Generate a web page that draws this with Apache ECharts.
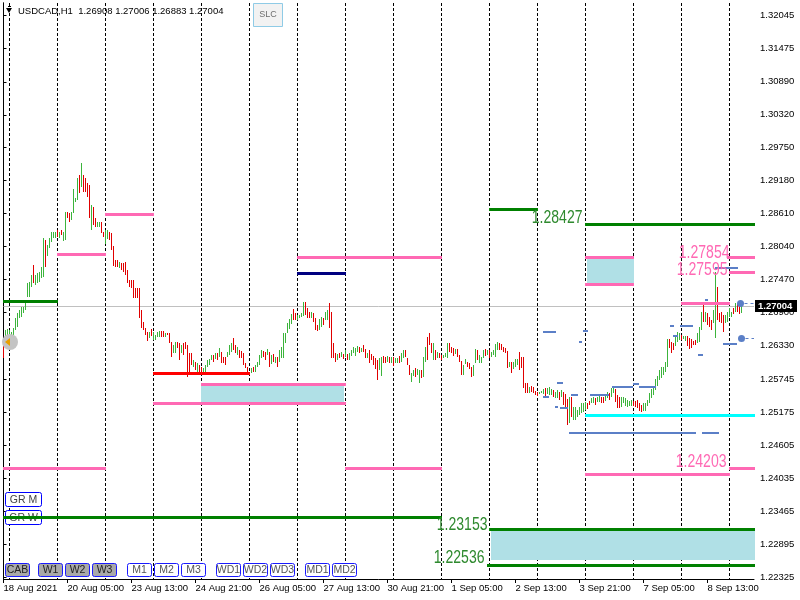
<!DOCTYPE html>
<html><head><meta charset="utf-8">
<script src="https://cdn.jsdelivr.net/npm/echarts@6/dist/echarts.min.js"></script>
<style>html,body{margin:0;padding:0;background:#fff}#c{width:800px;height:600px}</style>
</head><body><div id="c"></div>
<script>
// ---------------- DATA ----------------
const symbolName = 'USDCAD,H1';
const lastBar = {open: 1.26908, high: 1.27006, low: 1.26883, close: 1.27004};
const currentPrice = 1.27004;

const opens = [
1.2646,1.2630,1.2648,1.2646,1.2646,1.2646,1.2660,1.2665,1.2681,1.2682,
1.2689,1.2694,1.2717,1.2717,1.2734,1.2772,1.2738,1.2741,1.2743,1.2750,
1.2751,1.2815,1.2788,1.2802,1.2812,1.2819,1.2819,1.2833,1.2819,1.2833,
1.2814,1.2815,1.2864,1.2862,1.2850,1.2862,1.2881,1.2885,1.2928,1.2907,
1.2928,1.2923,1.2914,1.2911,1.2833,1.2872,1.2853,1.2838,1.2838,1.2847,
1.2829,1.2808,1.2817,1.2829,1.2827,1.2805,1.2781,1.2781,1.2767,1.2776,
1.2776,1.2777,1.2764,1.2746,1.2746,1.2746,1.2732,1.2732,1.2732,1.2694,
1.2674,1.2663,1.2656,1.2646,1.2662,1.2643,1.2643,1.2648,1.2648,1.2658,
1.2658,1.2648,1.2655,1.2655,1.2639,1.2620,1.2620,1.2639,1.2637,1.2620,
1.2637,1.2639,1.2634,1.2620,1.2620,1.2596,1.2604,1.2587,1.2599,1.2596,
1.2585,1.2587,1.2596,1.2599,1.2608,1.2617,1.2610,1.2620,1.2613,1.2622,
1.2613,1.2613,1.2613,1.2617,1.2622,1.2646,1.2634,1.2617,1.2625,1.2623,
1.2620,1.2603,1.2596,1.2587,1.2585,1.2596,1.2587,1.2596,1.2599,1.2611,
1.2623,1.2622,1.2617,1.2622,1.2601,1.2618,1.2603,1.2613,1.2604,1.2611,
1.2611,1.2637,1.2655,1.2662,1.2670,1.2696,1.2689,1.2677,1.2681,1.2682,
1.2684,1.2708,1.2698,1.2691,1.2681,1.2689,1.2681,1.2668,1.2660,1.2665,
1.2681,1.2677,1.2677,1.2706,1.2691,1.2637,1.2620,1.2608,1.2620,1.2613,
1.2618,1.2613,1.2618,1.2608,1.2615,1.2620,1.2615,1.2622,1.2630,1.2622,
1.2634,1.2627,1.2611,1.2625,1.2618,1.2615,1.2611,1.2608,1.2591,1.2580,
1.2615,1.2613,1.2604,1.2613,1.2603,1.2613,1.2603,1.2603,1.2615,1.2604,
1.2611,1.2625,1.2611,1.2599,1.2570,1.2580,1.2594,1.2582,1.2568,1.2591,
1.2579,1.2604,1.2648,1.2655,1.2637,1.2608,1.2625,1.2611,1.2620,1.2617,
1.2611,1.2613,1.2611,1.2637,1.2630,1.2629,1.2618,1.2627,1.2617,1.2606,
1.2582,1.2601,1.2604,1.2603,1.2596,1.2580,1.2603,1.2625,1.2603,1.2603,
1.2611,1.2627,1.2617,1.2625,1.2613,1.2617,1.2613,1.2625,1.2637,1.2636,
1.2630,1.2629,1.2623,1.2596,1.2604,1.2592,1.2596,1.2599,1.2622,1.2613,
1.2613,1.2568,1.2568,1.2551,1.2563,1.2561,1.2554,1.2553,1.2549,1.2551,
1.2549,1.2559,1.2549,1.2547,1.2547,1.2556,1.2542,1.2542,1.2553,1.2544,
1.2553,1.2549,1.2540,1.2499,1.2544,1.2504,1.2504,1.2509,1.2513,1.2516,
1.2518,1.2521,1.2533,1.2537,1.2533,1.2533,1.2542,1.2535,1.2535,1.2544,
1.2544,1.2537,1.2542,1.2551,1.2544,1.2551,1.2558,1.2547,1.2544,1.2527,
1.2533,1.2528,1.2527,1.2528,1.2528,1.2537,1.2537,1.2539,1.2533,1.2530,
1.2520,1.2520,1.2528,1.2533,1.2542,1.2547,1.2556,1.2563,1.2573,1.2577,
1.2582,1.2587,1.2596,1.2644,1.2639,1.2637,1.2632,1.2639,1.2643,1.2651,
1.2644,1.2641,1.2649,1.2646,1.2644,1.2641,1.2643,1.2637,1.2639,1.2660,
1.2706,1.2674,1.2689,1.2682,1.2677,1.2672,1.2646,1.2734,1.2689,1.2691,
1.2686,1.2672,1.2674,1.2682,1.2682,1.2698,1.2691,1.2706,1.2703,1.26908
];
const closes = [
1.2611,1.2660,1.2662,1.2660,1.2656,1.2663,1.2681,1.2689,1.2694,1.2700,
1.2700,1.2708,1.2741,1.2743,1.2755,1.2741,1.2755,1.2758,1.2760,1.2769,
1.2819,1.2769,1.2807,1.2819,1.2829,1.2829,1.2829,1.2821,1.2829,1.2824,
1.2829,1.2864,1.2853,1.2847,1.2864,1.2904,1.2888,1.2923,1.2897,1.2949,
1.2898,1.2898,1.2890,1.2853,1.2876,1.2841,1.2838,1.2847,1.2847,1.2827,
1.2821,1.2833,1.2833,1.2815,1.2798,1.2770,1.2769,1.2769,1.2777,1.2764,
1.2760,1.2755,1.2741,1.2734,1.2732,1.2715,1.2715,1.2715,1.2681,1.2663,
1.2660,1.2651,1.2641,1.2656,1.2649,1.2656,1.2651,1.2656,1.2658,1.2648,
1.2648,1.2655,1.2651,1.2637,1.2613,1.2634,1.2639,1.2629,1.2608,1.2634,
1.2617,1.2627,1.2579,1.2587,1.2599,1.2608,1.2591,1.2603,1.2585,1.2587,
1.2594,1.2599,1.2608,1.2610,1.2617,1.2604,1.2620,1.2608,1.2629,1.2603,
1.2603,1.2599,1.2622,1.2634,1.2637,1.2625,1.2620,1.2630,1.2611,1.2611,
1.2599,1.2594,1.2587,1.2584,1.2594,1.2587,1.2599,1.2604,1.2617,1.2625,
1.2613,1.2608,1.2627,1.2596,1.2617,1.2604,1.2613,1.2596,1.2625,1.2630,
1.2655,1.2655,1.2672,1.2679,1.2687,1.2677,1.2677,1.2686,1.2686,1.2689,
1.2708,1.2686,1.2681,1.2681,1.2691,1.2674,1.2660,1.2658,1.2679,1.2682,
1.2668,1.2691,1.2694,1.2663,1.2611,1.2611,1.2604,1.2618,1.2611,1.2622,
1.2610,1.2625,1.2608,1.2620,1.2625,1.2630,1.2629,1.2632,1.2620,1.2629,
1.2622,1.2611,1.2620,1.2603,1.2608,1.2599,1.2592,1.2573,1.2611,1.2613,
1.2603,1.2603,1.2615,1.2603,1.2613,1.2598,1.2611,1.2611,1.2603,1.2620,
1.2625,1.2613,1.2599,1.2582,1.2585,1.2591,1.2579,1.2592,1.2591,1.2577,
1.2613,1.2630,1.2608,1.2634,1.2620,1.2637,1.2608,1.2622,1.2611,1.2608,
1.2617,1.2620,1.2637,1.2622,1.2620,1.2615,1.2627,1.2613,1.2604,1.2582,
1.2599,1.2610,1.2596,1.2592,1.2579,1.2599,1.2627,1.2608,1.2617,1.2613,
1.2625,1.2615,1.2625,1.2611,1.2622,1.2625,1.2636,1.2639,1.2625,1.2625,
1.2622,1.2620,1.2594,1.2604,1.2585,1.2604,1.2610,1.2610,1.2591,1.2594,
1.2559,1.2551,1.2551,1.2561,1.2553,1.2551,1.2547,1.2546,1.2553,1.2554,
1.2558,1.2544,1.2559,1.2561,1.2558,1.2544,1.2553,1.2556,1.2539,1.2556,
1.2530,1.2527,1.2495,1.2544,1.2509,1.2527,1.2527,1.2521,1.2527,1.2533,
1.2533,1.2535,1.2523,1.2530,1.2542,1.2544,1.2530,1.2544,1.2546,1.2533,
1.2533,1.2547,1.2553,1.2539,1.2559,1.2561,1.2535,1.2525,1.2525,1.2544,
1.2544,1.2542,1.2539,1.2537,1.2539,1.2528,1.2527,1.2525,1.2520,1.2518,
1.2533,1.2533,1.2539,1.2551,1.2558,1.2561,1.2575,1.2580,1.2591,1.2596,
1.2596,1.2604,1.2644,1.2629,1.2620,1.2625,1.2648,1.2656,1.2655,1.2643,
1.2649,1.2649,1.2632,1.2627,1.2629,1.2634,1.2634,1.2655,1.2665,1.2691,
1.2674,1.2691,1.2668,1.2665,1.2660,1.2694,1.2760,1.2677,1.2674,1.2672,
1.2656,1.2686,1.2691,1.2698,1.2691,1.2687,1.2706,1.2691,1.2687,1.27004
];

// x-axis (bar index) ticks and labels
const xTickBars = [0,32,64,96,128,160,192,224,256,288,320,352];
const xTickLabels = ['18 Aug 2021','20 Aug 05:00','23 Aug 13:00','24 Aug 21:00','26 Aug 05:00','27 Aug 13:00',
  '30 Aug 21:00','1 Sep 05:00','2 Sep 13:00','3 Sep 21:00','7 Sep 05:00','8 Sep 13:00'];
// price scale ticks
const yTickValues = [1.32045,1.31475,1.30890,1.30320,1.29750,1.29180,1.28610,1.28040,1.27470,1.26900,
  1.26330,1.25745,1.25175,1.24605,1.24035,1.23465,1.22895,1.22325];
// day separators (bar index of each 00:00)
const daySeparatorBars = [3,27,51,75,99,123,147,171,195,219,243,267,291,315,339,363];

// horizontal level objects: [fromBar, toBar, price]
const greenLevels = [[0,27,1.2710],[243,267,1.2869],[291,376,1.28427],[0,219,1.2336],[243,376,1.23153],[242,376,1.22536]];
const pinkLevels = [[27,51,1.2791],[51,75,1.2860],[99,171,1.2566],[75,171,1.2534],[0,51,1.2421],[171,219,1.2421],
  [147,219,1.2786],[291,315,1.2786],[291,315,1.2739],[362,376,1.27854],[363,376,1.27595],[339,363,1.2707],
  [291,363,1.2411],[363,376,1.24203]];
const redLevels = [[75,123,1.2586]];
const navyLevels = [[147,171,1.2758]];
const cyanLevels = [[291,376,1.2513]];
// zones: [fromBar, toBar, priceTop, priceBottom]
const zones = [[99,170,1.2565,1.2534],[292,315,1.2783,1.2741],[244,376,1.2314,1.2262]];
// short blue marks: [fromBar, toBar, price]
const blueMarks = [[270,276,1.2656],[290,292,1.2658],[288,289,1.2639],[277,279.5,1.2568],[270,272.5,1.2544],
  [284,287,1.2547],[276,277,1.2527],[278.5,282,1.2525],[293.5,302.5,1.2547],[304.5,314.5,1.2561],
  [315,317.5,1.2566],[318,326,1.2561],[283,346,1.2482],[349.5,357.5,1.2482],[333.5,335,1.2667],
  [338.5,344.5,1.2667],[335,337,1.2649],[347.5,349.5,1.2617],[351,352,1.2712],[360,366.5,1.2636],[356,367,1.2767]];
const blueDots = [[368.5,1.2707],[369,1.2646]];
// price text labels: [rightEdgeBar, price(center), text]
const greenTexts = [[289.5,1.2853,'1.28427'],[242,1.2322,'1.23153'],[240.5,1.2266,'1.22536']];
const pinkTexts = [[363,1.2793,'1.27854'],[362,1.2764,'1.27595'],[361.5,1.2431,'1.24203']];
// buttons
const topButtons = [['GR M'],['GR W']];
const bottomButtons = [['CAB',true],['W1',true],['W2',true],['W3',true],['M1',false],['M2',false],['M3',false],
  ['WD1',false],['WD2',false],['WD3',false],['MD1',false],['MD2',false]];

// ---------------- CHART ----------------
const YMIN = 1.22291, YMAX = 1.32253, XMIN = 0, XMAX = 375.25;
const UP = '#3cb43c', DOWN = '#e00000';
const FONT = '"Liberation Sans", Arial, sans-serif';

const candleData = opens.map((o, i) => {
  const c = closes[i];
  const last = i === opens.length - 1;
  const lo = last ? lastBar.low : Math.min(o, c);
  const hi = last ? lastBar.high : Math.max(o, c);
  return [i, o, c, lo, hi];
});

function segSeries(segs, color, thick, z) {
  return {
    type: 'custom', z: z, silent: true, clip: true, animation: false,
    data: segs, encode: {x: [0, 1], y: 2},
    renderItem: function (p, api) {
      const a = api.coord([api.value(0), api.value(2)]);
      const b = api.coord([api.value(1), api.value(2)]);
      const x0 = Math.floor(a[0]), x1 = Math.floor(b[0]);
      const y = Math.round(a[1]) - Math.floor(thick / 2);
      return {type: 'rect', shape: {x: x0, y: y, width: Math.max(1, x1 - x0 + 1), height: thick}, style: {fill: color}};
    }
  };
}
function textSeries(items, color, z) {
  return {
    type: 'custom', z: z, silent: true, clip: false, animation: false,
    data: items.map(t => [t[0], t[1]]), encode: {x: 0, y: 1},
    renderItem: function (p, api) {
      const pt = api.coord([api.value(0), api.value(1)]);
      return {type: 'text', x: pt[0], y: pt[1], scaleX: 0.78,
        style: {text: items[p.dataIndex][2], fill: color, font: '18px ' + FONT,
          align: 'right', verticalAlign: 'middle', textAlign: 'right', textVerticalAlign: 'middle'}};
    }
  };
}

const graphics = [];
// header
graphics.push({type: 'polygon', z: 10, shape: {points: [[6, 8], [12, 8], [9, 13]]}, style: {fill: '#000'}});
graphics.push({type: 'rect', z: 10, shape: {x: 8, y: 6, width: 3, height: 1}, style: {fill: '#000'}});
graphics.push({type: 'text', z: 10, x: 18, y: 11, style: {
  text: symbolName + '  ' + [lastBar.open, lastBar.high, lastBar.low, lastBar.close].map(v => v.toFixed(5)).join(' '),
  font: '9.5px ' + FONT, fill: '#000', verticalAlign: 'middle', textVerticalAlign: 'middle'}});
// SLC button
graphics.push({type: 'rect', z: 10, shape: {x: 253.5, y: 3.5, width: 29, height: 23}, style: {fill: '#f2f2f2', stroke: '#8fcbe6', lineWidth: 1}});
graphics.push({type: 'text', z: 10, x: 268, y: 15, style: {text: 'SLC', font: '9px ' + FONT, fill: '#707070',
  align: 'center', verticalAlign: 'middle', textAlign: 'center', textVerticalAlign: 'middle'}});
// GR buttons
topButtons.forEach((b, k) => {
  const y = 492.5 + k * 18;
  graphics.push({type: 'rect', z: 3, shape: {x: 5.5, y: y, width: 36, height: 14, r: 2}, style: {fill: '#fff', stroke: '#0000ff', lineWidth: 1}});
  graphics.push({type: 'text', z: 3, x: 23.5, y: y + 7.5, style: {text: b[0], font: '10.5px ' + FONT, fill: '#444',
    align: 'center', verticalAlign: 'middle', textAlign: 'center', textVerticalAlign: 'middle'}});
});
// bottom buttons
const bx = [5, 38, 65, 92, 127, 154, 181, 216, 243, 270, 305, 332];
bottomButtons.forEach((b, k) => {
  graphics.push({type: 'rect', z: 3, shape: {x: bx[k] + 0.5, y: 563.5, width: 24, height: 13, r: 2},
    style: {fill: b[1] ? '#a9a9a9' : '#fff', stroke: '#1a1aff', lineWidth: 1}});
  graphics.push({type: 'text', z: 3, x: bx[k] + 12.5, y: 570.5, style: {text: b[0], font: '10.5px ' + FONT,
    fill: b[1] ? '#222' : '#555', align: 'center', verticalAlign: 'middle', textAlign: 'center', textVerticalAlign: 'middle'}});
});
// arrow object at left edge
graphics.push({type: 'circle', z: 3, shape: {cx: 10, cy: 342, r: 8}, style: {fill: '#c4c4c4'}});
graphics.push({type: 'polygon', z: 3, shape: {points: [[5, 342], [10, 338], [10, 346]]}, style: {fill: '#e8a000'}});

const option = {
  animation: false,
  backgroundColor: '#fff',
  grid: {left: 3.5, right: 46, top: 3, bottom: 21, containLabel: false},
  xAxis: {
    type: 'value', min: XMIN, max: XMAX,
    axisLine: {show: true, lineStyle: {color: '#000', width: 1}},
    axisTick: {show: true, customValues: xTickBars, length: 4, lineStyle: {color: '#000'}},
    axisLabel: {show: true, customValues: xTickBars, align: 'left', margin: 4, fontSize: 9.5, fontFamily: FONT, color: '#000',
      formatter: v => { const k = xTickBars.indexOf(Math.round(v)); return k >= 0 ? xTickLabels[k] : ''; }},
    splitLine: {show: false}
  },
  yAxis: [{
    type: 'value', position: 'right', min: YMIN, max: YMAX,
    axisLine: {show: true, lineStyle: {color: '#000', width: 1}},
    axisTick: {show: true, customValues: yTickValues, length: 3, lineStyle: {color: '#000'}},
    axisLabel: {show: true, customValues: yTickValues, margin: 6, fontSize: 9.5, fontFamily: FONT, color: '#000',
      formatter: v => v.toFixed(5)},
    splitLine: {show: false}
  }, {
    type: 'value', position: 'left', min: YMIN, max: YMAX,
    axisLine: {show: true, lineStyle: {color: '#000', width: 1}},
    axisTick: {show: false}, axisLabel: {show: false}, splitLine: {show: false}
  }],
  graphic: graphics,
  series: [
    { // day separators
      type: 'custom', z: 1, silent: true, clip: true,
      data: daySeparatorBars.map(b => [b]), encode: {x: 0},
      renderItem: function (p, api) {
        const pt = api.coord([api.value(0), YMAX]);
        const x = Math.floor(pt[0]) + 0.5;
        const cs = p.coordSys;
        return {type: 'line', shape: {x1: x, y1: cs.y, x2: x, y2: cs.y + cs.height},
          style: {stroke: '#000', lineWidth: 1, lineDash: [3, 2]}};
      }
    },
    { // current price line and tag
      type: 'custom', z: 1, silent: true, clip: false,
      data: [[XMIN, currentPrice]], encode: {x: 0, y: 1},
      renderItem: function (p, api) {
        const pt = api.coord([XMIN, api.value(1)]);
        const cs = p.coordSys;
        const y = Math.round(pt[1]) + 0.5;
        return {type: 'group', children: [
          {type: 'line', shape: {x1: cs.x, y1: y, x2: cs.x + cs.width, y2: y}, style: {stroke: '#c0c0c0', lineWidth: 1}},
          {type: 'rect', z2: 10, shape: {x: cs.x + cs.width + 1, y: y - 6.5, width: 42, height: 12}, style: {fill: '#000'}},
          {type: 'text', z2: 11, x: cs.x + cs.width + 4, y: y, style: {text: api.value(1).toFixed(5), fill: '#fff',
            font: 'bold 9.5px ' + FONT, verticalAlign: 'middle', textVerticalAlign: 'middle'}}
        ]};
      }
    },
    { // candles
      type: 'custom', z: 2, silent: true, clip: true,
      data: candleData, encode: {x: 0, y: [1, 2, 3, 4]},
      renderItem: function (p, api) {
        const i = api.value(0), o = api.value(1), c = api.value(2), lo = api.value(3), hi = api.value(4);
        const top = api.coord([i, hi]), bot = api.coord([i, lo]);
        const x = Math.floor(top[0]);
        const y0 = Math.round(top[1]), y1 = Math.round(bot[1]);
        return {type: 'rect', shape: {x: x, y: y0, width: 1, height: Math.max(1, y1 - y0)}, style: {fill: c >= o ? UP : DOWN}};
      }
    },
    { // zones
      type: 'custom', z: 4, silent: true, clip: true,
      data: zones, encode: {x: [0, 1], y: [2, 3]},
      renderItem: function (p, api) {
        const a = api.coord([api.value(0), api.value(2)]);
        const b = api.coord([api.value(1), api.value(3)]);
        const x0 = Math.floor(a[0]), x1 = Math.floor(b[0]);
        const y0 = Math.round(a[1]), y1 = Math.round(b[1]);
        return {type: 'rect', shape: {x: x0, y: y0, width: x1 - x0 + 1, height: y1 - y0}, style: {fill: '#b0e0e6'}};
      }
    },
    segSeries(pinkLevels, '#ff69b4', 3, 5),
    segSeries(greenLevels, '#008000', 3, 5),
    segSeries(redLevels, '#ff0000', 3, 5),
    segSeries(navyLevels, '#000080', 3, 5),
    segSeries(cyanLevels, '#00ffff', 3, 5),
    segSeries(blueMarks, '#5b7fc7', 2, 5),
    { // blue dots
      type: 'custom', z: 5, silent: true, clip: false,
      data: blueDots, encode: {x: 0, y: 1},
      renderItem: function (p, api) {
        const pt = api.coord([api.value(0), api.value(1)]);
        const cs = p.coordSys;
        const y = Math.round(pt[1]) + 0.5;
        return {type: 'group', children: [
          {type: 'line', shape: {x1: pt[0] + 4, y1: y, x2: cs.x + cs.width, y2: y}, style: {stroke: '#5b7fc7', lineWidth: 1, lineDash: [3, 3]}},
          {type: 'circle', shape: {cx: pt[0], cy: y, r: 3.5}, style: {fill: '#5b7fc7'}}
        ]};
      }
    },
    textSeries(greenTexts, '#2f8a2f', 6),
    textSeries(pinkTexts, '#ff69b4', 6)
  ]
};

const chart = echarts.init(document.getElementById('c'));
chart.setOption(option);
</script>
</body></html>
